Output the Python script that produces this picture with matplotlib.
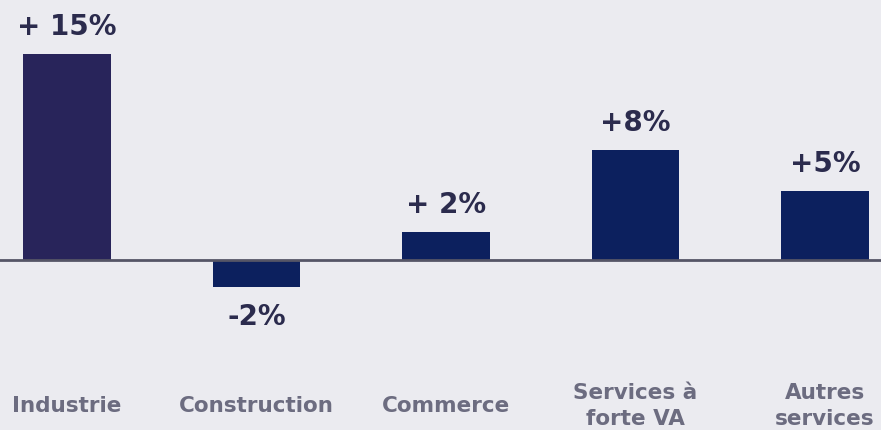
import matplotlib
matplotlib.use("Agg")
import matplotlib.pyplot as plt

categories = ["Industrie", "Construction", "Commerce", "Services à\nforte VA", "Autres\nservices"]
values = [15, -2, 2, 8, 5]
value_labels = ["+ 15%", "-2%", "+ 2%", "+8%", "+5%"]
bar_colors = ["#28245a", "#0c205e", "#0c205e", "#0c205e", "#0c205e"]

bg = "#ebebf0"
fig = plt.figure(figsize=(8.81, 4.31), dpi=100, facecolor=bg)
ax = fig.add_axes([0, 0, 1, 1], facecolor=bg)

x = list(range(len(categories)))
ax.bar(x, values, width=0.46, color=bar_colors, zorder=2)
ax.axhline(0, color="#555566", lw=2, zorder=3)

ax.set_xlim(-0.3536, 4.2955)
ax.set_ylim(-12.38, 19.0)
ax.axis("off")

font = ["DejaVu Sans"]
for xi, v, lab in zip(x, values, value_labels):
    if v >= 0:
        ax.text(xi, v + 2.05, lab, ha="center", va="center", fontsize=20,
                fontweight="bold", color="#2b2b4d", family=font)
    else:
        ax.text(xi, v - 2.1, lab, ha="center", va="center", fontsize=20,
                fontweight="bold", color="#2b2b4d", family=font)

for xi, cat in zip(x, categories):
    ax.text(xi, -10.55, cat, ha="center", va="center", fontsize=15.5,
            fontweight="bold", color="#6c6c80", family=font, linespacing=1.35)

fig.savefig("out.png", dpi=100, facecolor=bg)
